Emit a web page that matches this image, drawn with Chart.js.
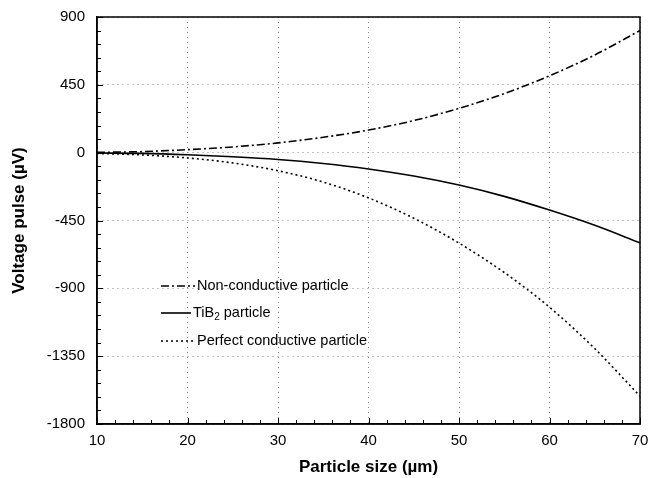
<!DOCTYPE html>
<html>
<head>
<meta charset="utf-8">
<script src="https://cdn.jsdelivr.net/npm/chart.js@4"></script>
<style>
  html, body { margin: 0; padding: 0; background: #fff; }
  #wrap { width: 649px; height: 478px; }
</style>
</head>
<body>
<div id="wrap"><canvas id="myChart" width="649" height="478"></canvas></div>
<script>
// particle size in um
const sizes = [10, 15, 20, 25, 30, 35, 40, 45, 50, 55, 60, 65, 70];

// voltage pulse in uV
const nonConductive = [2, 7, 20, 38, 65, 102, 150, 213, 294, 392, 510, 648, 810];
const tib2 = [-2, -5, -14, -27, -45, -72, -108, -155, -215, -290, -381, -482, -598];
const perfectConductive = [-5, -15, -35, -68, -120, -195, -300, -435, -600, -795, -1025, -1300, -1615];

const xTicks = [10, 20, 30, 40, 50, 60, 70];
const yTicks = [-1800, -1350, -900, -450, 0, 450, 900];

const legendLabels = ['Non-conductive particle', 'TiB2 particle', 'Perfect conductive particle'];

function pts(vals) {
    return sizes.map((s, i) => ({ x: s, y: vals[i] }));
}

const data = {
    datasets: [{
        label: legendLabels[0],
        data: pts(nonConductive),
        borderColor: '#000',
        borderWidth: 1.6,
        borderDash: [8, 3, 2, 3],
        pointRadius: 0,
        cubicInterpolationMode: 'monotone'
    }, {
        label: legendLabels[1],
        data: pts(tib2),
        borderColor: '#000',
        borderWidth: 1.6,
        pointRadius: 0,
        cubicInterpolationMode: 'monotone'
    }, {
        label: legendLabels[2],
        data: pts(perfectConductive),
        borderColor: '#000',
        borderWidth: 1.6,
        borderDash: [2, 3],
        pointRadius: 0,
        cubicInterpolationMode: 'monotone'
    }]
};

// minor ticks pointing inside + legend inside the plot
const extras = {
    id: 'extras',
    afterDraw(chart) {
        const ctx = chart.ctx;
        const x = chart.scales.x, y = chart.scales.y;
        const a = chart.chartArea;
        ctx.save();
        ctx.strokeStyle = '#000';
        ctx.lineWidth = 1;
        ctx.beginPath();
        for (let v = 10; v <= 70; v += 2) {
            const px = Math.round(x.getPixelForValue(v)) + 0.5;
            ctx.moveTo(px, a.bottom);
            ctx.lineTo(px, a.bottom - (v % 10 === 0 ? 6 : 4));
        }
        for (let v = -1800; v <= 900; v += 90) {
            const py = Math.round(y.getPixelForValue(v)) + 0.5;
            ctx.moveTo(a.left, py);
            ctx.lineTo(a.left + (v % 450 === 0 ? 6 : 4), py);
        }
        ctx.stroke();

        // legend
        const rows = [286, 313, 341];
        const dashes = [[8, 3, 2, 3], [], [2, 3]];
        const lineEnd = [195, 191, 195];
        const font = '14.5px "Liberation Sans", Arial, sans-serif';
        ctx.font = font;
        ctx.fillStyle = '#000';
        ctx.textBaseline = 'middle';
        rows.forEach((ry, i) => {
            ctx.setLineDash(dashes[i]);
            ctx.lineWidth = 1.6;
            ctx.beginPath();
            ctx.moveTo(161, ry);
            ctx.lineTo(lineEnd[i], ry);
            ctx.stroke();
            ctx.setLineDash([]);
            const tx = lineEnd[i] + 2;
            if (i === 1) {
                ctx.fillText('TiB', tx, ry);
                let w = ctx.measureText('TiB').width;
                ctx.font = '10px "Liberation Sans", Arial, sans-serif';
                ctx.fillText('2', tx + w, ry + 4);
                const w2 = ctx.measureText('2').width;
                ctx.font = font;
                ctx.fillText(' particle', tx + w + w2, ry);
            } else {
                ctx.fillText(legendLabels[i], tx, ry);
            }
        });
        ctx.restore();
    }
};

const plainLabel = v => String(v);

const config = {
    type: 'line',
    data: data,
    options: {
        responsive: false,
        animation: false,
        layout: { padding: { left: 9, right: 9, top: 17, bottom: 0 } },
        plugins: {
            legend: { display: false },
            tooltip: { enabled: false }
        },
        scales: {
            x: {
                type: 'linear',
                min: 10,
                max: 70,
                afterBuildTicks: s => { s.ticks = xTicks.map(v => ({ value: v })); },
                afterFit: s => { s.height = 54; s.paddingLeft = 0; s.paddingRight = 0; },
                grid: { color: '#888', lineWidth: 1, drawTicks: false },
                border: { display: true, color: '#000', width: 1.5, dash: [1, 4] },
                ticks: {
                    padding: 8,
                    color: '#000',
                    callback: plainLabel,
                    font: { family: '"Liberation Sans", Arial, sans-serif', size: 15 }
                },
                title: {
                    display: true,
                    text: 'Particle size (\u00b5m)',
                    color: '#000',
                    padding: { top: 0, bottom: 0 },
                    font: { family: '"Liberation Sans", Arial, sans-serif', size: 17, weight: 'bold' }
                }
            },
            y: {
                min: -1800,
                max: 900,
                afterBuildTicks: s => { s.ticks = yTicks.map(v => ({ value: v })); },
                afterFit: s => { s.width = 88; s.paddingTop = 0; s.paddingBottom = 0; },
                grid: { color: '#888', lineWidth: 1, drawTicks: false },
                border: { display: true, color: '#000', width: 1.5, dash: [1, 4] },
                ticks: {
                    padding: 12,
                    color: '#000',
                    callback: plainLabel,
                    font: { family: '"Liberation Sans", Arial, sans-serif', size: 15 }
                },
                title: {
                    display: true,
                    text: 'Voltage pulse (\u00b5V)',
                    color: '#000',
                    padding: { top: 0, bottom: 0 },
                    font: { family: '"Liberation Sans", Arial, sans-serif', size: 17, weight: 'bold' }
                }
            }
        }
    },
    plugins: [extras, {
        id: 'frame',
        afterDatasetsDraw(chart) {
            const a = chart.chartArea, ctx = chart.ctx;
            ctx.save();
            ctx.strokeStyle = '#000';
            ctx.lineWidth = 1.5;
            ctx.strokeRect(a.left, a.top, a.right - a.left, a.bottom - a.top);
            ctx.restore();
        }
    }]
};

const myChart = new Chart(document.getElementById('myChart'), config);
</script>
</body>
</html>
